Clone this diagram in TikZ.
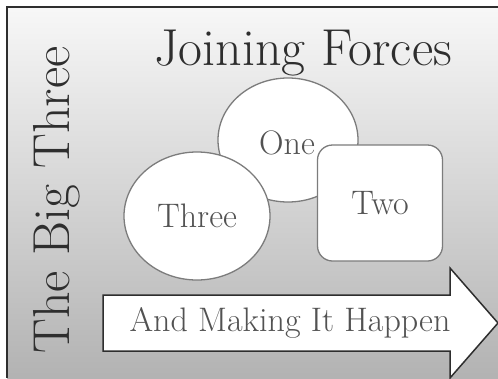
\documentclass[tikz,border=0pt]{standalone}
\usetikzlibrary{shapes.geometric}
\definecolor{inkgrey}{HTML}{2E2E2E}
\definecolor{rimgrey}{HTML}{7C7C7C}
\tikzset{
  bigtext/.style={font=\fontsize{52}{52}\selectfont, text=inkgrey},
  midtext/.style={font=\fontsize{34}{34}\selectfont, text=black!68},
  bubble/.style={ellipse, draw=rimgrey, line width=1.3pt, fill=white, inner sep=0pt, midtext},
  tile/.style={rectangle, rounded corners=15pt, draw=rimgrey, line width=1.3pt, fill=white, inner sep=0pt, midtext}
}
\begin{document}
\begin{tikzpicture}[x=1pt,y=-1pt]
	\useasboundingbox (0,0) rectangle (498,378);
	\fill[white] (0,0) rectangle (498,378);
	\shade[top color=black!3, bottom color=black!30] (7,7) rectangle (498,378);
	\draw[inkgrey, line width=1.3pt] (498,7) -- (7,7) -- (7,378);

	\node[bigtext, rotate=90] (big) at (57,200) {The Big Three};
	\node[bigtext] (title) at (303,53) {Joining Forces};

	\node[bubble, minimum width=140pt, minimum height=124pt] (one) at (288,140) {};
	\node[midtext] (onelabel) at (287,143) {One};
	\node[bubble, minimum width=146pt, minimum height=128pt] (three) at (197,216) {Three};
	\node[tile, minimum width=125pt, minimum height=116pt] (two) at (380,203) {Two};

	\draw[inkgrey, line width=1.5pt, fill=white] (103,295) -- (450,295) -- (450,268) -- (498,323) -- (450,378) -- (450,351) -- (103,351) -- cycle;
	\node[midtext] (happen) at (290,323) {And Making It Happen};

\end{tikzpicture}
\end{document}
